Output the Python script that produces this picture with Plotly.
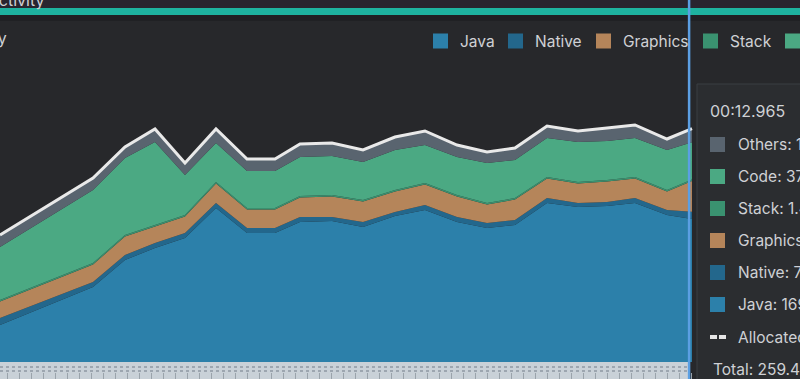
import plotly.graph_objects as go
import numpy as np

# ---- data (MB) ----
times = [1.480, 3.030, 3.563, 4.063, 4.563, 5.080, 5.597, 6.063, 6.480, 7.013, 7.530,
         8.063, 8.563, 9.097, 9.597, 10.063, 10.597, 11.113, 11.597, 12.063, 12.597, 13.013]
java = [63, 101, 128, 140, 150, 180, 155, 155, 166, 167, 161,
        172, 178, 166, 160, 163, 185, 181, 182, 185, 173, 169.0]
native = [7, 5, 5, 5, 5, 5, 5, 5, 5, 4, 5,
          4, 5, 5, 5, 5, 5, 4, 4, 5, 5, 7.2]
graphics = [16.5, 17.5, 18.5, 16.5, 16.5, 19.5, 18.5, 18.5, 19.5, 20.5, 20.5,
            20.5, 20.5, 20.5, 18.5, 20.5, 19.5, 19.5, 20.5, 19.5, 18.5, 30.8]
stack = [1.5, 1.5, 1.5, 1.5, 1.5, 1.5, 1.5, 1.5, 1.5, 1.5, 1.5,
         1.5, 1.5, 1.5, 1.5, 1.5, 1.5, 1.5, 1.5, 1.5, 1.5, 1.4]
code = [53, 73, 77, 83, 40, 39, 37, 37, 39, 39, 38,
        40, 38, 38, 40, 38, 39, 40, 39, 39, 40, 37.4]
others = [12, 12, 11, 13, 12, 14, 12, 12, 13, 13, 12,
          13, 14, 12, 11, 12, 12, 11, 13, 13, 11, 13.6]
cursor_time = 12.965
cursor_label = "00:12.965"
legend_names = ["Java", "Native", "Graphics", "Stack", "Code"]

W, H = 800, 379
def px(x): return x / W
def py(y): return 1 - y / H

FONT = "Inter"
TXT = "#cfd1d5"
BG = "#27282b"

colors = {"Java": "#2c80aa", "Native": "#23678c", "Graphics": "#b5855a",
          "Stack": "#3a9270", "Code": "#4ba983", "Others": "#59646f"}
series = [("Java", java), ("Native", native), ("Graphics", graphics),
          ("Stack", stack), ("Code", code), ("Others", others)]

fig = go.Figure()
for name, vals in series:
    fig.add_trace(go.Scatter(x=times, y=vals, stackgroup="mem", mode="lines",
                             line=dict(width=0, color=colors[name]), fillcolor=colors[name],
                             name=name, showlegend=False, hoverinfo="skip"))
total = np.sum([np.array(v, dtype=float) for _, v in series], axis=0)
fig.add_trace(go.Scatter(x=times, y=total, mode="lines", line=dict(color="#e9e9e9", width=3),
                         showlegend=False, hoverinfo="skip"))

t0 = 1.48
shapes = []
annotations = []
# top bars
shapes.append(dict(type="rect", xref="paper", yref="paper", x0=0, x1=1, y0=py(8), y1=1,
                   fillcolor="#29252f", line_width=0, layer="above"))
shapes.append(dict(type="rect", xref="paper", yref="paper", x0=0, x1=1, y0=py(15), y1=py(8),
                   fillcolor="#1eb3a0", line_width=0, layer="above"))
shapes.append(dict(type="rect", xref="paper", yref="paper", x0=0, x1=1, y0=py(21), y1=py(15),
                   fillcolor="#202124", line_width=0, layer="above"))
# bottom event strip
shapes.append(dict(type="rect", xref="paper", yref="paper", x0=0, x1=px(690), y0=0, y1=py(362),
                   fillcolor="#c9d1d8", line_width=0, layer="below"))
for yy in (367, 371):
    shapes.append(dict(type="line", xref="paper", yref="paper", x0=0, x1=px(690), y0=py(yy), y1=py(yy),
                       line=dict(color="#8e98a2", width=1.5, dash="dot"), layer="below"))
# tooltip panel
shapes.append(dict(type="rect", xref="paper", yref="paper", x0=px(697), x1=1.02, y0=-0.02, y1=py(84),
                   fillcolor="#2b2d30", line=dict(color="#3b3e43", width=1), layer="above"))
# cursor
shapes.append(dict(type="line", xref="x", yref="paper", x0=cursor_time, x1=cursor_time, y0=0, y1=1,
                   line=dict(color="#5b9fe3", width=2.5), layer="above"))

# legend at top
leg_sq_x = [433, 508, 596, 703, 785]
leg_tx_x = [458, 533, 621, 728, 810]
for name, sx, tx in zip(legend_names, leg_sq_x, leg_tx_x):
    shapes.append(dict(type="rect", xref="paper", yref="paper", x0=px(sx), x1=px(sx + 15),
                       y0=py(48.5), y1=py(33.5), fillcolor=colors[name], line_width=0, layer="above"))
    annotations.append(dict(text=name, xref="paper", yref="paper", x=px(tx), y=py(41.5),
                            xanchor="left", yanchor="middle", showarrow=False,
                            font=dict(family=FONT, size=15.5, color=TXT)))

# tooltip content
annotations.append(dict(text=cursor_label, xref="paper", yref="paper", x=px(708), y=py(111),
                        xanchor="left", yanchor="middle", showarrow=False,
                        font=dict(family=FONT, size=16, color=TXT)))
rows = [("Others", others[-1], 144.5), ("Code", code[-1], 176.5), ("Stack", stack[-1], 208.5),
        ("Graphics", graphics[-1], 240.5), ("Native", native[-1], 272.5), ("Java", java[-1], 304.5)]
for name, v, yc in rows:
    shapes.append(dict(type="rect", xref="paper", yref="paper", x0=px(710), x1=px(725),
                       y0=py(yc + 7.5), y1=py(yc - 7.5), fillcolor=colors[name], line_width=0, layer="above"))
    annotations.append(dict(text=f"{name}: {v:.1f} MB", xref="paper", yref="paper", x=px(736), y=py(yc),
                            xanchor="left", yanchor="middle", showarrow=False,
                            font=dict(family=FONT, size=15.5, color=TXT)))
for dx in (710, 719):
    shapes.append(dict(type="rect", xref="paper", yref="paper", x0=px(dx), x1=px(dx + 7),
                       y0=py(339), y1=py(335), fillcolor="#e6e6e6", line_width=0, layer="above"))
annotations.append(dict(text="Allocated: N/A", xref="paper", yref="paper", x=px(736), y=py(337),
                        xanchor="left", yanchor="middle", showarrow=False,
                        font=dict(family=FONT, size=15.5, color=TXT)))
annotations.append(dict(text=f"Total: {total[-1]:.1f} MB", xref="paper", yref="paper", x=px(711), y=py(369),
                        xanchor="left", yanchor="middle", showarrow=False,
                        font=dict(family=FONT, size=15.5, color=TXT)))
# cut-off titles
annotations.append(dict(text="Memory", xref="paper", yref="paper", x=px(9), y=py(38),
                        xanchor="right", yanchor="middle", showarrow=False,
                        font=dict(family=FONT, size=16, color=TXT)))
annotations.append(dict(text="MainActivity", xref="paper", yref="paper", x=px(46), y=py(12),
                        xanchor="right", yanchor="bottom", showarrow=False,
                        font=dict(family=FONT, size=16, color=TXT)))

fig.update_layout(
    width=W, height=H, margin=dict(l=0, r=0, t=0, b=0),
    paper_bgcolor=BG, plot_bgcolor=BG, showlegend=False,
    shapes=shapes, annotations=annotations,
    xaxis=dict(range=[t0, t0 + W / 60], showgrid=False, zeroline=False, showticklabels=False,
               ticks="inside", ticklen=6, tickcolor="#9aa3ab", tickwidth=1, dtick=0.2,
               anchor="free", position=0, showline=False, fixedrange=True),
    yaxis=dict(range=[26, 388], domain=[17 / H, 1], showgrid=False, zeroline=False,
               showticklabels=False, ticks="", fixedrange=True),
)
fig.write_html("out.html", config={"displayModeBar": False},
               post_script="document.body.style.margin='0';document.body.style.overflow='hidden';")
